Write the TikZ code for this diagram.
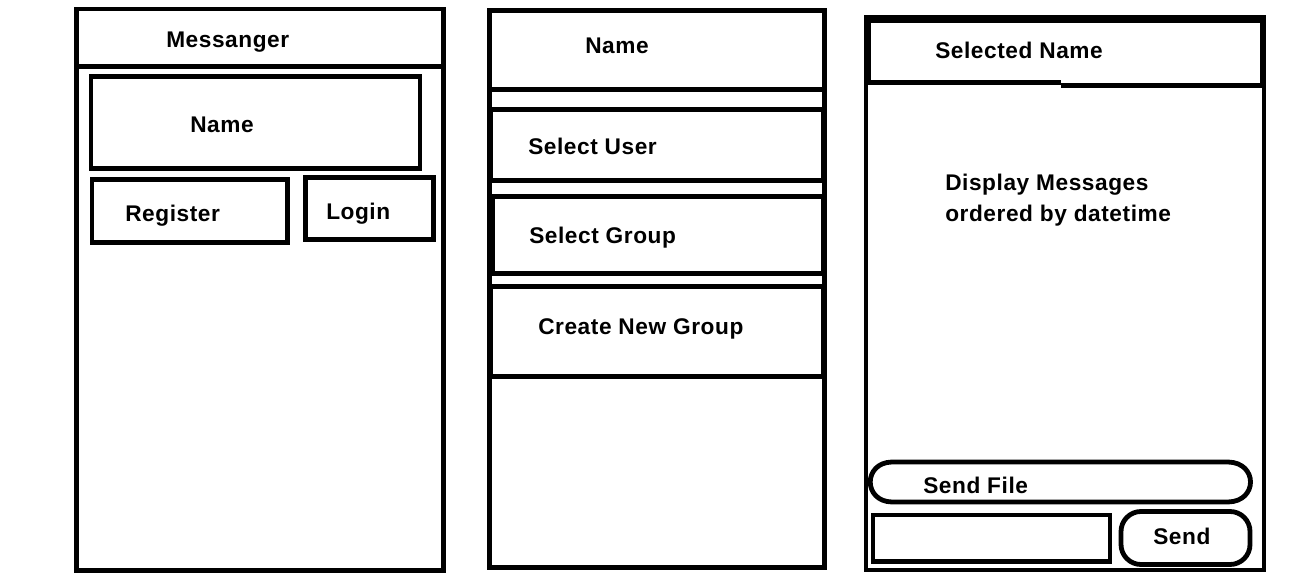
\documentclass[tikz,border=0pt]{standalone}
\usepackage{fontspec}
\setmainfont{Liberation Sans}[LetterSpace=2.5]
\begin{document}
\begin{tikzpicture}[x=0.75pt,y=-0.75pt,
  frame/.style={draw=black,line width=3.6pt,line join=miter},
  lbl/.style={anchor=base west,inner sep=0pt,font=\fontsize{17}{23}\selectfont\bfseries}]
\useasboundingbox[fill=white] (0,0) rectangle (1313,573);

% ---------- login screen ----------
\draw[frame] (76.5,9) rectangle (443.5,570.5);
\draw[frame] (76.5,66.5) -- (443.5,66.5);
\draw[frame] (91,76.5) rectangle (420,168.5);
\draw[frame] (92,179.5) rectangle (287.5,242.5);
\draw[frame] (305.5,177.5) rectangle (433.5,239.5);
\node[lbl] (title)    at (166,47.5)  {Messanger};
\node[lbl] (username) at (190,132.5) {Name};
\node[lbl] (register) at (125,221.5) {Register};
\node[lbl] (login)    at (326,219.5) {Login};

% ---------- contact list screen ----------
\draw[frame] (489.5,10.5) rectangle (824.5,567.5);
\draw[frame] (489.5,89.5) -- (824.5,89.5);
\draw[frame] (491,109.5) rectangle (823,180.5);
\draw[frame] (493,196.5) rectangle (823.5,273.5);
\draw[frame] (491,286.5) rectangle (823,376.5);
\node[lbl] (me)       at (585,53.5)  {Name};
\node[lbl] (seluser)  at (528,154.5) {Select User};
\node[lbl] (selgroup) at (529,243.5) {Select Group};
\node[lbl] (newgroup) at (538,334.5) {Create New Group};

% ---------- chat screen ----------
\draw[frame] (866,17.5) rectangle (1264,570);
\draw[frame] (1061,85.5) -| (1262,20.5) -| (869,82.5) -- (1061,82.5);
\node[lbl] (peer) at (935,58.5) {Selected Name};
\node[lbl,align=left] (history) at (945,221.5)
  {Display Messages\\ordered by datetime};
% send-file button with bulging ends
\draw[frame] (892,462) -- (1228,462)
  .. controls (1258,462.5) and (1258,501.5) .. (1228,502)
  -- (892,502)
  .. controls (863,501.5) and (863,462.5) .. (892,462) -- cycle;
\node[lbl] (sendfile) at (923,493.5) {Send File};
\draw[frame] (873,515) rectangle (1110,561.5);
\draw[frame,rounded corners=15pt] (1121,511.5) rectangle (1250,564.5);
\node[lbl] (send) at (1153,544.5) {Send};
\end{tikzpicture}
\end{document}
